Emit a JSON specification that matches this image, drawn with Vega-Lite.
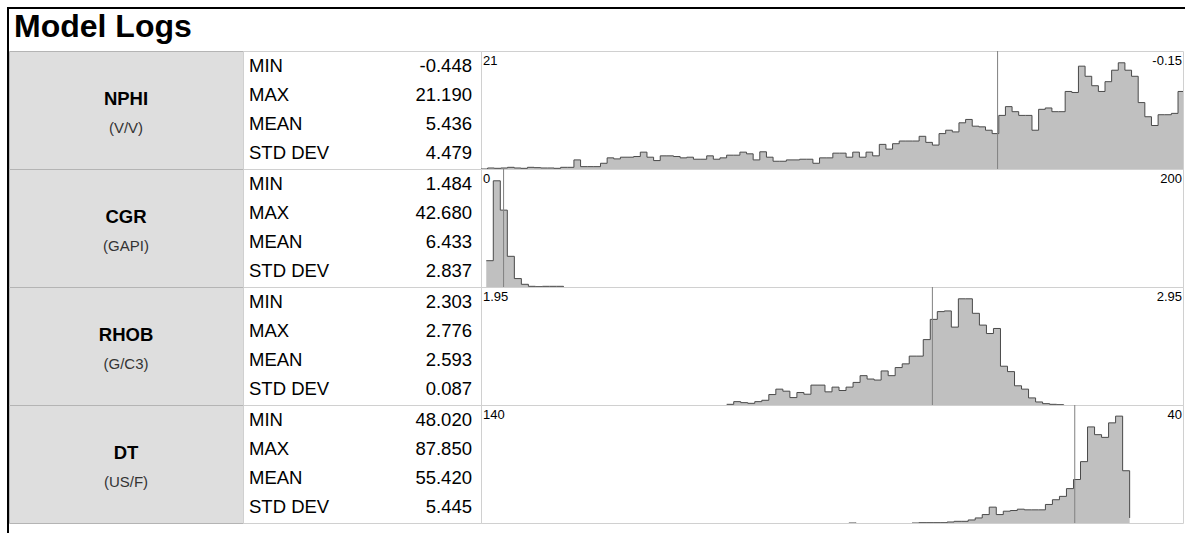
{
  "$schema": "https://vega.github.io/schema/vega-lite/v6.json",
  "padding": {"left": 7, "top": 7, "right": 0, "bottom": 0},
  "background": "white",
  "config": {
    "font": "Liberation Sans",
    "view": {"stroke": "#d0d0d0", "strokeWidth": 1},
    "text": {"font": "Liberation Sans", "color": "#000000"},
    "locale": {"number": {"decimal": ".", "thousands": ",", "grouping": [3], "currency": ["$", ""], "minus": "-"}}
  },
  "datasets": {
    "logs": [
      {"log": "NPHI", "unit": "(V/V)", "left": 21, "right": -0.15, "leftLabel": "21", "rightLabel": "-0.15"},
      {"log": "CGR", "unit": "(GAPI)", "left": 0, "right": 200, "leftLabel": "0", "rightLabel": "200"},
      {"log": "RHOB", "unit": "(G/C3)", "left": 1.95, "right": 2.95, "leftLabel": "1.95", "rightLabel": "2.95"},
      {"log": "DT", "unit": "(US/F)", "left": 140, "right": 40, "leftLabel": "140", "rightLabel": "40"}
    ],
    "stats": [
      {"log": "NPHI", "stat": "MIN", "value": -0.448},
      {"log": "NPHI", "stat": "MAX", "value": 21.19},
      {"log": "NPHI", "stat": "MEAN", "value": 5.436},
      {"log": "NPHI", "stat": "STD DEV", "value": 4.479},
      {"log": "CGR", "stat": "MIN", "value": 1.484},
      {"log": "CGR", "stat": "MAX", "value": 42.68},
      {"log": "CGR", "stat": "MEAN", "value": 6.433},
      {"log": "CGR", "stat": "STD DEV", "value": 2.837},
      {"log": "RHOB", "stat": "MIN", "value": 2.303},
      {"log": "RHOB", "stat": "MAX", "value": 2.776},
      {"log": "RHOB", "stat": "MEAN", "value": 2.593},
      {"log": "RHOB", "stat": "STD DEV", "value": 0.087},
      {"log": "DT", "stat": "MIN", "value": 48.02},
      {"log": "DT", "stat": "MAX", "value": 87.85},
      {"log": "DT", "stat": "MEAN", "value": 55.42},
      {"log": "DT", "stat": "STD DEV", "value": 5.445}
    ],
    "nphi": [
      {"lo": 21.0, "count": 0},
      {"lo": 20.8, "count": 3}, {"lo": 20.6, "count": 2}, {"lo": 20.4, "count": 3}, {"lo": 20.2, "count": 5},
      {"lo": 20.0, "count": 3}, {"lo": 19.8, "count": 2}, {"lo": 19.6, "count": 5}, {"lo": 19.4, "count": 4},
      {"lo": 19.2, "count": 3}, {"lo": 19.0, "count": 3}, {"lo": 18.8, "count": 2}, {"lo": 18.6, "count": 5},
      {"lo": 18.4, "count": 5}, {"lo": 18.2, "count": 27}, {"lo": 18.0, "count": 7}, {"lo": 17.8, "count": 7},
      {"lo": 17.6, "count": 7}, {"lo": 17.4, "count": 17}, {"lo": 17.2, "count": 33}, {"lo": 17.0, "count": 30},
      {"lo": 16.8, "count": 35}, {"lo": 16.6, "count": 35}, {"lo": 16.4, "count": 37}, {"lo": 16.2, "count": 50},
      {"lo": 16.0, "count": 35}, {"lo": 15.8, "count": 25}, {"lo": 15.6, "count": 39}, {"lo": 15.4, "count": 39},
      {"lo": 15.2, "count": 37}, {"lo": 15.0, "count": 33}, {"lo": 14.8, "count": 35}, {"lo": 14.6, "count": 29},
      {"lo": 14.4, "count": 29}, {"lo": 14.2, "count": 39}, {"lo": 14.0, "count": 29}, {"lo": 13.8, "count": 33},
      {"lo": 13.6, "count": 41}, {"lo": 13.4, "count": 41}, {"lo": 13.2, "count": 50}, {"lo": 13.0, "count": 45},
      {"lo": 12.8, "count": 27}, {"lo": 12.6, "count": 51}, {"lo": 12.4, "count": 35}, {"lo": 12.2, "count": 23},
      {"lo": 12.0, "count": 23}, {"lo": 11.8, "count": 27}, {"lo": 11.6, "count": 27}, {"lo": 11.4, "count": 29},
      {"lo": 11.2, "count": 29}, {"lo": 11.0, "count": 17}, {"lo": 10.8, "count": 33}, {"lo": 10.6, "count": 33},
      {"lo": 10.4, "count": 47}, {"lo": 10.2, "count": 47}, {"lo": 10.0, "count": 35}, {"lo": 9.8, "count": 50},
      {"lo": 9.6, "count": 35}, {"lo": 9.4, "count": 50}, {"lo": 9.2, "count": 39}, {"lo": 9.0, "count": 73},
      {"lo": 8.8, "count": 59}, {"lo": 8.6, "count": 75}, {"lo": 8.4, "count": 83}, {"lo": 8.2, "count": 83},
      {"lo": 8.0, "count": 83}, {"lo": 7.8, "count": 97}, {"lo": 7.6, "count": 79}, {"lo": 7.4, "count": 71},
      {"lo": 7.2, "count": 105}, {"lo": 7.0, "count": 115}, {"lo": 6.8, "count": 110}, {"lo": 6.6, "count": 137},
      {"lo": 6.4, "count": 147}, {"lo": 6.2, "count": 127}, {"lo": 6.0, "count": 125}, {"lo": 5.8, "count": 115},
      {"lo": 5.6, "count": 105}, {"lo": 5.4, "count": 159}, {"lo": 5.2, "count": 185}, {"lo": 5.0, "count": 170},
      {"lo": 4.8, "count": 159}, {"lo": 4.6, "count": 159}, {"lo": 4.4, "count": 115}, {"lo": 4.2, "count": 177},
      {"lo": 4.0, "count": 181}, {"lo": 3.8, "count": 170}, {"lo": 3.6, "count": 170}, {"lo": 3.4, "count": 230},
      {"lo": 3.2, "count": 227}, {"lo": 3.0, "count": 305}, {"lo": 2.8, "count": 275}, {"lo": 2.6, "count": 247},
      {"lo": 2.4, "count": 230}, {"lo": 2.2, "count": 259}, {"lo": 2.0, "count": 293}, {"lo": 1.8, "count": 315},
      {"lo": 1.6, "count": 293}, {"lo": 1.4, "count": 275}, {"lo": 1.2, "count": 197}, {"lo": 1.0, "count": 155},
      {"lo": 0.8, "count": 129}, {"lo": 0.6, "count": 161}, {"lo": 0.4, "count": 161}, {"lo": 0.2, "count": 165},
      {"lo": 0.0, "count": 230}, {"lo": -0.2, "count": 55}
    ],
    "cgr": [
      {"lo": 1.5, "count": 78}, {"lo": 3.5, "count": 315}, {"lo": 5.5, "count": 228}, {"lo": 7.5, "count": 91},
      {"lo": 9.5, "count": 25}, {"lo": 11.5, "count": 8}, {"lo": 13.5, "count": 2}, {"lo": 15.5, "count": 1},
      {"lo": 17.5, "count": 2}, {"lo": 19.5, "count": 2}, {"lo": 21.5, "count": 2}, {"lo": 23.5, "count": 0}
    ],
    "rhob": [
      {"lo": 2.30, "count": 2}, {"lo": 2.31, "count": 10}, {"lo": 2.32, "count": 7}, {"lo": 2.33, "count": 5},
      {"lo": 2.34, "count": 10}, {"lo": 2.35, "count": 14}, {"lo": 2.36, "count": 31}, {"lo": 2.37, "count": 47},
      {"lo": 2.38, "count": 41}, {"lo": 2.39, "count": 22}, {"lo": 2.40, "count": 37}, {"lo": 2.41, "count": 32},
      {"lo": 2.42, "count": 59}, {"lo": 2.43, "count": 59}, {"lo": 2.44, "count": 39}, {"lo": 2.45, "count": 53},
      {"lo": 2.46, "count": 43}, {"lo": 2.47, "count": 53}, {"lo": 2.48, "count": 67}, {"lo": 2.49, "count": 87},
      {"lo": 2.50, "count": 77}, {"lo": 2.51, "count": 74}, {"lo": 2.52, "count": 101}, {"lo": 2.53, "count": 87},
      {"lo": 2.54, "count": 111}, {"lo": 2.55, "count": 122}, {"lo": 2.56, "count": 145}, {"lo": 2.57, "count": 145},
      {"lo": 2.58, "count": 194}, {"lo": 2.59, "count": 254}, {"lo": 2.60, "count": 277}, {"lo": 2.61, "count": 279},
      {"lo": 2.62, "count": 231}, {"lo": 2.63, "count": 315}, {"lo": 2.64, "count": 315}, {"lo": 2.65, "count": 272},
      {"lo": 2.66, "count": 237}, {"lo": 2.67, "count": 212}, {"lo": 2.68, "count": 227}, {"lo": 2.69, "count": 115},
      {"lo": 2.70, "count": 99}, {"lo": 2.71, "count": 57}, {"lo": 2.72, "count": 47}, {"lo": 2.73, "count": 21},
      {"lo": 2.74, "count": 9}, {"lo": 2.75, "count": 4}, {"lo": 2.76, "count": 2}, {"lo": 2.77, "count": 1},
      {"lo": 2.78, "count": 0}
    ],
    "dt": [
      {"seg": 1, "lo": 47.6, "count": 15}, {"seg": 1, "lo": 48.6, "count": 155}, {"seg": 1, "lo": 49.6, "count": 317},
      {"seg": 1, "lo": 50.6, "count": 297}, {"seg": 1, "lo": 51.6, "count": 254}, {"seg": 1, "lo": 52.6, "count": 262},
      {"seg": 1, "lo": 53.6, "count": 285}, {"seg": 1, "lo": 54.6, "count": 182}, {"seg": 1, "lo": 55.6, "count": 129},
      {"seg": 1, "lo": 56.6, "count": 102}, {"seg": 1, "lo": 57.6, "count": 79}, {"seg": 1, "lo": 58.6, "count": 69},
      {"seg": 1, "lo": 59.6, "count": 55}, {"seg": 1, "lo": 60.6, "count": 39}, {"seg": 1, "lo": 61.6, "count": 39},
      {"seg": 1, "lo": 62.6, "count": 39}, {"seg": 1, "lo": 63.6, "count": 41}, {"seg": 1, "lo": 64.6, "count": 37},
      {"seg": 1, "lo": 65.6, "count": 35}, {"seg": 1, "lo": 66.6, "count": 25}, {"seg": 1, "lo": 67.6, "count": 47},
      {"seg": 1, "lo": 68.6, "count": 25}, {"seg": 1, "lo": 69.6, "count": 15}, {"seg": 1, "lo": 70.6, "count": 9},
      {"seg": 1, "lo": 71.6, "count": 5}, {"seg": 1, "lo": 72.6, "count": 5}, {"seg": 1, "lo": 73.6, "count": 3},
      {"seg": 1, "lo": 74.6, "count": 1}, {"seg": 1, "lo": 75.6, "count": 1}, {"seg": 1, "lo": 76.6, "count": 1},
      {"seg": 1, "lo": 77.6, "count": 1}, {"seg": 1, "lo": 78.6, "count": 0},
      {"seg": 2, "lo": 86.6, "count": 1}, {"seg": 2, "lo": 87.6, "count": 0}
    ]
  },
  "columns": 4,
  "spacing": 0,
  "bounds": "flush",
  "align": "each",
  "concat": [
    {"width": 2, "height": 2, "view": {"fill": "#000000", "stroke": null}, "data": {"values": [{}]}, "mark": {"type": "point", "size": 0, "opacity": 0}, "encoding": {}},
    {"width": 234, "height": 2, "view": {"fill": "#000000", "stroke": null}, "data": {"values": [{}]}, "mark": {"type": "point", "size": 0, "opacity": 0}, "encoding": {}},
    {"width": 238, "height": 2, "view": {"fill": "#000000", "stroke": null}, "data": {"values": [{}]}, "mark": {"type": "point", "size": 0, "opacity": 0}, "encoding": {}},
    {"width": 704, "height": 2, "view": {"fill": "#000000", "stroke": null}, "data": {"values": [{}]}, "mark": {"type": "point", "size": 0, "opacity": 0}, "encoding": {}},

    {"width": 2, "height": 42, "view": {"fill": "#000000", "stroke": null}, "data": {"values": [{}]}, "mark": {"type": "point", "size": 0, "opacity": 0}, "encoding": {}},
    {
      "width": 234, "height": 42,
      "view": {"stroke": null},
      "data": {"values": [{"title": "Model Logs"}]},
      "mark": {"type": "text", "align": "left", "baseline": "alphabetic", "fontSize": 32, "fontWeight": "bold", "dx": 5, "dy": 7},
      "encoding": {
        "x": {"datum": 0, "type": "quantitative", "scale": {"domain": [0, 1]}, "axis": null},
        "text": {"field": "title"}
      }
    },
    {"width": 238, "height": 42, "view": {"stroke": null}, "data": {"values": [{}]}, "mark": {"type": "point", "size": 0, "opacity": 0}, "encoding": {}},
    {"width": 702, "height": 42, "view": {"stroke": null}, "data": {"values": [{}]}, "mark": {"type": "point", "size": 0, "opacity": 0}, "encoding": {}},

    {"width": 2, "height": 118, "view": {"fill": "#000000", "stroke": null}, "data": {"values": [{}]}, "mark": {"type": "point", "size": 0, "opacity": 0}, "encoding": {}},
    {
      "width": 234, "height": 118,
      "view": {"fill": "#dedede", "stroke": "#b4b4b4"},
      "data": {"name": "logs"},
      "transform": [{"filter": "datum.log === 'NPHI'"}],
      "layer": [
        {"mark": {"type": "text", "fontWeight": "bold", "fontSize": 18.5, "baseline": "middle", "dy": -11}, "encoding": {"text": {"field": "log"}}},
        {"mark": {"type": "text", "fontSize": 15, "baseline": "middle", "dy": 18, "color": "#333333"}, "encoding": {"text": {"field": "unit"}}}
      ]
    },
    {
      "width": 238, "height": 118,
      "data": {"name": "stats"},
      "transform": [{"filter": "datum.log === 'NPHI'"}],
      "encoding": {"y": {"field": "stat", "type": "ordinal", "sort": ["MIN", "MAX", "MEAN", "STD DEV"], "scale": {"type": "point", "range": [15, 102], "padding": 0}, "axis": null}},
      "layer": [
        {"mark": {"type": "text", "align": "left", "dx": 6, "fontSize": 18.5}, "encoding": {"x": {"datum": 0, "type": "quantitative", "scale": {"domain": [0, 1]}, "axis": null}, "text": {"field": "stat"}}},
        {"mark": {"type": "text", "align": "right", "dx": -9, "fontSize": 18.5}, "encoding": {"x": {"datum": 1, "type": "quantitative"}, "text": {"field": "value", "type": "quantitative", "format": ".3f"}}}
      ]
    },
    {
      "width": 702, "height": 118,
      "layer": [
        {"data": {"name": "nphi"}, "mark": {"type": "area", "interpolate": "step-after", "color": "#c0c0c0", "clip": true},
         "encoding": {
           "x": {"field": "lo", "type": "quantitative", "scale": {"domain": [21, -0.15], "nice": false, "zero": false}, "axis": null},
           "y": {"field": "count", "type": "quantitative", "stack": null, "scale": {"domain": [0, 350], "nice": false}, "axis": null}}},
        {"data": {"name": "nphi"}, "mark": {"type": "line", "interpolate": "step-after", "color": "#4a4a4a", "strokeWidth": 1, "clip": true},
         "encoding": {"x": {"field": "lo", "type": "quantitative"}, "y": {"field": "count", "type": "quantitative"}}},
        {"data": {"name": "stats"}, "transform": [{"filter": "datum.log === 'NPHI' && datum.stat === 'MEAN'"}],
         "mark": {"type": "rule", "color": "#808080", "strokeWidth": 1},
         "encoding": {"x": {"field": "value", "type": "quantitative"}}},
        {"data": {"name": "logs"}, "transform": [{"filter": "datum.log === 'NPHI'"}],
         "mark": {"type": "text", "align": "left", "baseline": "top", "dx": 2, "dy": 4, "fontSize": 13},
         "encoding": {"x": {"field": "left", "type": "quantitative"}, "y": {"datum": 350, "type": "quantitative"}, "text": {"field": "leftLabel"}}},
        {"data": {"name": "logs"}, "transform": [{"filter": "datum.log === 'NPHI'"}],
         "mark": {"type": "text", "align": "right", "baseline": "top", "dx": -1, "dy": 4, "fontSize": 13},
         "encoding": {"x": {"field": "right", "type": "quantitative"}, "y": {"datum": 350, "type": "quantitative"}, "text": {"field": "rightLabel"}}}
      ]
    },

    {"width": 2, "height": 118, "view": {"fill": "#000000", "stroke": null}, "data": {"values": [{}]}, "mark": {"type": "point", "size": 0, "opacity": 0}, "encoding": {}},
    {
      "width": 234, "height": 118,
      "view": {"fill": "#dedede", "stroke": "#b4b4b4"},
      "data": {"name": "logs"},
      "transform": [{"filter": "datum.log === 'CGR'"}],
      "layer": [
        {"mark": {"type": "text", "fontWeight": "bold", "fontSize": 18.5, "baseline": "middle", "dy": -11}, "encoding": {"text": {"field": "log"}}},
        {"mark": {"type": "text", "fontSize": 15, "baseline": "middle", "dy": 18, "color": "#333333"}, "encoding": {"text": {"field": "unit"}}}
      ]
    },
    {
      "width": 238, "height": 118,
      "data": {"name": "stats"},
      "transform": [{"filter": "datum.log === 'CGR'"}],
      "encoding": {"y": {"field": "stat", "type": "ordinal", "sort": ["MIN", "MAX", "MEAN", "STD DEV"], "scale": {"type": "point", "range": [15, 102], "padding": 0}, "axis": null}},
      "layer": [
        {"mark": {"type": "text", "align": "left", "dx": 6, "fontSize": 18.5}, "encoding": {"x": {"datum": 0, "type": "quantitative", "scale": {"domain": [0, 1]}, "axis": null}, "text": {"field": "stat"}}},
        {"mark": {"type": "text", "align": "right", "dx": -9, "fontSize": 18.5}, "encoding": {"x": {"datum": 1, "type": "quantitative"}, "text": {"field": "value", "type": "quantitative", "format": ".3f"}}}
      ]
    },
    {
      "width": 702, "height": 118,
      "layer": [
        {"data": {"name": "cgr"}, "mark": {"type": "area", "interpolate": "step-after", "color": "#c0c0c0", "clip": true},
         "encoding": {
           "x": {"field": "lo", "type": "quantitative", "scale": {"domain": [0, 200], "nice": false, "zero": false}, "axis": null},
           "y": {"field": "count", "type": "quantitative", "stack": null, "scale": {"domain": [0, 350], "nice": false}, "axis": null}}},
        {"data": {"name": "cgr"}, "mark": {"type": "line", "interpolate": "step-after", "color": "#4a4a4a", "strokeWidth": 1, "clip": true},
         "encoding": {"x": {"field": "lo", "type": "quantitative"}, "y": {"field": "count", "type": "quantitative"}}},
        {"data": {"name": "stats"}, "transform": [{"filter": "datum.log === 'CGR' && datum.stat === 'MEAN'"}],
         "mark": {"type": "rule", "color": "#808080", "strokeWidth": 1},
         "encoding": {"x": {"field": "value", "type": "quantitative"}}},
        {"data": {"name": "logs"}, "transform": [{"filter": "datum.log === 'CGR'"}],
         "mark": {"type": "text", "align": "left", "baseline": "top", "dx": 2, "dy": 4, "fontSize": 13},
         "encoding": {"x": {"field": "left", "type": "quantitative"}, "y": {"datum": 350, "type": "quantitative"}, "text": {"field": "leftLabel"}}},
        {"data": {"name": "logs"}, "transform": [{"filter": "datum.log === 'CGR'"}],
         "mark": {"type": "text", "align": "right", "baseline": "top", "dx": -1, "dy": 4, "fontSize": 13},
         "encoding": {"x": {"field": "right", "type": "quantitative"}, "y": {"datum": 350, "type": "quantitative"}, "text": {"field": "rightLabel"}}}
      ]
    },

    {"width": 2, "height": 118, "view": {"fill": "#000000", "stroke": null}, "data": {"values": [{}]}, "mark": {"type": "point", "size": 0, "opacity": 0}, "encoding": {}},
    {
      "width": 234, "height": 118,
      "view": {"fill": "#dedede", "stroke": "#b4b4b4"},
      "data": {"name": "logs"},
      "transform": [{"filter": "datum.log === 'RHOB'"}],
      "layer": [
        {"mark": {"type": "text", "fontWeight": "bold", "fontSize": 18.5, "baseline": "middle", "dy": -11}, "encoding": {"text": {"field": "log"}}},
        {"mark": {"type": "text", "fontSize": 15, "baseline": "middle", "dy": 18, "color": "#333333"}, "encoding": {"text": {"field": "unit"}}}
      ]
    },
    {
      "width": 238, "height": 118,
      "data": {"name": "stats"},
      "transform": [{"filter": "datum.log === 'RHOB'"}],
      "encoding": {"y": {"field": "stat", "type": "ordinal", "sort": ["MIN", "MAX", "MEAN", "STD DEV"], "scale": {"type": "point", "range": [15, 102], "padding": 0}, "axis": null}},
      "layer": [
        {"mark": {"type": "text", "align": "left", "dx": 6, "fontSize": 18.5}, "encoding": {"x": {"datum": 0, "type": "quantitative", "scale": {"domain": [0, 1]}, "axis": null}, "text": {"field": "stat"}}},
        {"mark": {"type": "text", "align": "right", "dx": -9, "fontSize": 18.5}, "encoding": {"x": {"datum": 1, "type": "quantitative"}, "text": {"field": "value", "type": "quantitative", "format": ".3f"}}}
      ]
    },
    {
      "width": 702, "height": 118,
      "layer": [
        {"data": {"name": "rhob"}, "mark": {"type": "area", "interpolate": "step-after", "color": "#c0c0c0", "clip": true},
         "encoding": {
           "x": {"field": "lo", "type": "quantitative", "scale": {"domain": [1.95, 2.95], "nice": false, "zero": false}, "axis": null},
           "y": {"field": "count", "type": "quantitative", "stack": null, "scale": {"domain": [0, 350], "nice": false}, "axis": null}}},
        {"data": {"name": "rhob"}, "mark": {"type": "line", "interpolate": "step-after", "color": "#4a4a4a", "strokeWidth": 1, "clip": true},
         "encoding": {"x": {"field": "lo", "type": "quantitative"}, "y": {"field": "count", "type": "quantitative"}}},
        {"data": {"name": "stats"}, "transform": [{"filter": "datum.log === 'RHOB' && datum.stat === 'MEAN'"}],
         "mark": {"type": "rule", "color": "#808080", "strokeWidth": 1},
         "encoding": {"x": {"field": "value", "type": "quantitative"}}},
        {"data": {"name": "logs"}, "transform": [{"filter": "datum.log === 'RHOB'"}],
         "mark": {"type": "text", "align": "left", "baseline": "top", "dx": 2, "dy": 4, "fontSize": 13},
         "encoding": {"x": {"field": "left", "type": "quantitative"}, "y": {"datum": 350, "type": "quantitative"}, "text": {"field": "leftLabel"}}},
        {"data": {"name": "logs"}, "transform": [{"filter": "datum.log === 'RHOB'"}],
         "mark": {"type": "text", "align": "right", "baseline": "top", "dx": -1, "dy": 4, "fontSize": 13},
         "encoding": {"x": {"field": "right", "type": "quantitative"}, "y": {"datum": 350, "type": "quantitative"}, "text": {"field": "rightLabel"}}}
      ]
    },

    {"width": 2, "height": 118, "view": {"fill": "#000000", "stroke": null}, "data": {"values": [{}]}, "mark": {"type": "point", "size": 0, "opacity": 0}, "encoding": {}},
    {
      "width": 234, "height": 118,
      "view": {"fill": "#dedede", "stroke": "#b4b4b4"},
      "data": {"name": "logs"},
      "transform": [{"filter": "datum.log === 'DT'"}],
      "layer": [
        {"mark": {"type": "text", "fontWeight": "bold", "fontSize": 18.5, "baseline": "middle", "dy": -11}, "encoding": {"text": {"field": "log"}}},
        {"mark": {"type": "text", "fontSize": 15, "baseline": "middle", "dy": 18, "color": "#333333"}, "encoding": {"text": {"field": "unit"}}}
      ]
    },
    {
      "width": 238, "height": 118,
      "data": {"name": "stats"},
      "transform": [{"filter": "datum.log === 'DT'"}],
      "encoding": {"y": {"field": "stat", "type": "ordinal", "sort": ["MIN", "MAX", "MEAN", "STD DEV"], "scale": {"type": "point", "range": [15, 102], "padding": 0}, "axis": null}},
      "layer": [
        {"mark": {"type": "text", "align": "left", "dx": 6, "fontSize": 18.5}, "encoding": {"x": {"datum": 0, "type": "quantitative", "scale": {"domain": [0, 1]}, "axis": null}, "text": {"field": "stat"}}},
        {"mark": {"type": "text", "align": "right", "dx": -9, "fontSize": 18.5}, "encoding": {"x": {"datum": 1, "type": "quantitative"}, "text": {"field": "value", "type": "quantitative", "format": ".3f"}}}
      ]
    },
    {
      "width": 702, "height": 118,
      "layer": [
        {"data": {"name": "dt"}, "mark": {"type": "area", "interpolate": "step-after", "color": "#c0c0c0", "clip": true},
         "encoding": {
           "x": {"field": "lo", "type": "quantitative", "scale": {"domain": [140, 40], "nice": false, "zero": false}, "axis": null},
           "y": {"field": "count", "type": "quantitative", "stack": null, "scale": {"domain": [0, 350], "nice": false}, "axis": null},
           "detail": {"field": "seg", "type": "nominal"}}},
        {"data": {"name": "dt"}, "mark": {"type": "line", "interpolate": "step-after", "color": "#4a4a4a", "strokeWidth": 1, "clip": true},
         "encoding": {"x": {"field": "lo", "type": "quantitative"}, "y": {"field": "count", "type": "quantitative"}, "detail": {"field": "seg", "type": "nominal"}}},
        {"data": {"name": "stats"}, "transform": [{"filter": "datum.log === 'DT' && datum.stat === 'MEAN'"}],
         "mark": {"type": "rule", "color": "#808080", "strokeWidth": 1},
         "encoding": {"x": {"field": "value", "type": "quantitative"}}},
        {"data": {"name": "logs"}, "transform": [{"filter": "datum.log === 'DT'"}],
         "mark": {"type": "text", "align": "left", "baseline": "top", "dx": 2, "dy": 4, "fontSize": 13},
         "encoding": {"x": {"field": "left", "type": "quantitative"}, "y": {"datum": 350, "type": "quantitative"}, "text": {"field": "leftLabel"}}},
        {"data": {"name": "logs"}, "transform": [{"filter": "datum.log === 'DT'"}],
         "mark": {"type": "text", "align": "right", "baseline": "top", "dx": -1, "dy": 4, "fontSize": 13},
         "encoding": {"x": {"field": "right", "type": "quantitative"}, "y": {"datum": 350, "type": "quantitative"}, "text": {"field": "rightLabel"}}}
      ]
    },

    {"width": 2, "height": 10, "view": {"fill": "#000000", "stroke": null}, "data": {"values": [{}]}, "mark": {"type": "point", "size": 0, "opacity": 0}, "encoding": {}},
    {"width": 234, "height": 10, "view": {"stroke": null}, "data": {"values": [{}]}, "mark": {"type": "point", "size": 0, "opacity": 0}, "encoding": {}},
    {"width": 238, "height": 10, "view": {"stroke": null}, "data": {"values": [{}]}, "mark": {"type": "point", "size": 0, "opacity": 0}, "encoding": {}},
    {"width": 702, "height": 10, "view": {"stroke": null}, "data": {"values": [{}]}, "mark": {"type": "point", "size": 0, "opacity": 0}, "encoding": {}}
  ]
}
